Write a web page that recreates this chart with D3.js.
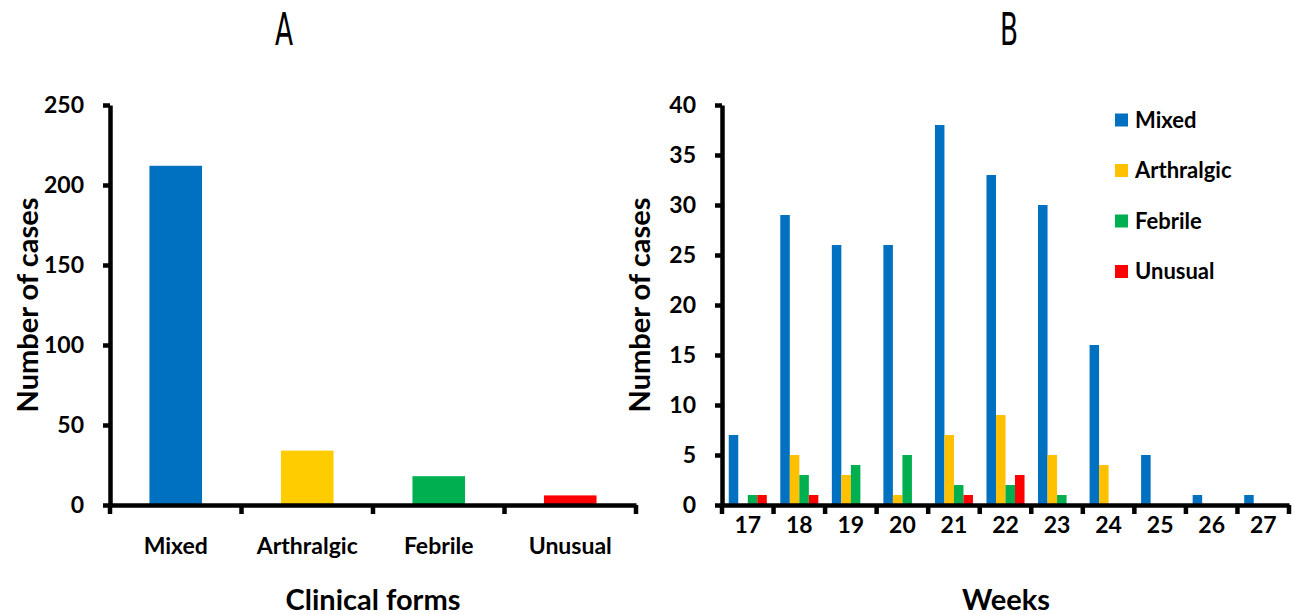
<!DOCTYPE html>
<html><head><meta charset="utf-8">
<script src="https://cdn.jsdelivr.net/npm/d3@7"></script>
<style>
body{margin:0;background:#fff;}
text{font-family:Lato,"Open Sans",sans-serif;font-weight:bold;fill:#000;}
</style></head>
<body><svg id="c" width="1294" height="615"></svg>
<script>
// Panel A data
const formCategories = ["Mixed","Arthralgic","Febrile","Unusual"];
const formValues = [212, 34, 18, 6];
const formColors = ["#0070C0","#FFCC00","#00B050","#FF0000"];
const formTicks = [0,50,100,150,200,250];

// Panel B data
const weeks = ["17","18","19","20","21","22","23","24","25","26","27"];
const seriesNames = ["Mixed","Arthralgic","Febrile","Unusual"];
const mixedByWeek =      [7,29,26,26,38,33,30,16,5,1,1];
const arthralgicByWeek = [0,5,3,1,7,9,5,4,0,0,0];
const febrileByWeek =    [1,3,4,5,2,2,1,0,0,0,0];
const unusualByWeek =    [1,1,0,0,1,3,0,0,0,0,0];
const seriesColors = ["#0070C0","#FFC000","#00B050","#FF0000"];
const weekTicks = [0,5,10,15,20,25,30,35,40];

const svg = d3.select("#c");
const AX = 4.5;
const TICKFS = "23px";

function styleAxis(g){
  g.selectAll("path.domain").attr("stroke","#000").attr("stroke-width",AX);
  g.selectAll(".tick line").attr("stroke","#000").attr("stroke-width",AX);
  g.selectAll(".tick text").style("font-size",TICKFS).style("font-family","Lato, sans-serif").style("font-weight","bold").attr("fill","#000");
}

// ---------- Panel A ----------
const xA = d3.scaleBand().domain(formCategories).range([110,636]);
const yA = d3.scaleLinear().domain([0,250]).range([505,105]);
const bwA = xA.bandwidth()*0.4;

svg.append("g").selectAll("rect").data(formCategories).join("rect")
  .attr("x",d=>xA(d)+xA.bandwidth()/2-bwA/2)
  .attr("width",bwA)
  .attr("y",(d,i)=>yA(formValues[i]))
  .attr("height",(d,i)=>yA(0)-yA(formValues[i]))
  .attr("fill",(d,i)=>formColors[i]);

const gyA = svg.append("g").attr("transform","translate(110,0)")
  .call(d3.axisLeft(yA).tickValues(formTicks).tickSize(7).tickSizeOuter(0).tickPadding(19));
styleAxis(gyA);

const gxA = svg.append("g").attr("transform","translate(0,505)")
  .call(d3.axisBottom(xA).tickSize(0).tickSizeOuter(0).tickPadding(33));
styleAxis(gxA);
const bndA = formCategories.map(d=>xA(d)).concat([xA.range()[1]]);
svg.append("g").selectAll("line").data(bndA).join("line")
  .attr("x1",d=>d).attr("x2",d=>d).attr("y1",505).attr("y2",514)
  .attr("stroke","#000").attr("stroke-width",AX);

svg.append("text").attr("x",373).attr("y",610).attr("text-anchor","middle")
  .style("font-size","29px").text("Clinical forms");
svg.append("text").attr("transform","translate(38,305) rotate(-90)").attr("text-anchor","middle")
  .style("font-size","29px").text("Number of cases");
svg.append("text").attr("transform","translate(284,45) scale(0.6,1)").attr("text-anchor","middle")
  .style("font-size","44px").style("font-weight","normal").style("font-family","'DejaVu Sans'").text("A");

// ---------- Panel B ----------
const xB = d3.scaleBand().domain(weeks).range([722,1289]);
const x1 = d3.scaleBand().domain(seriesNames).range([6.75, xB.bandwidth()-6.75]);
const yB = d3.scaleLinear().domain([0,40]).range([505,105]);
const seriesData = [mixedByWeek, arthralgicByWeek, febrileByWeek, unusualByWeek];

seriesNames.forEach((s,si)=>{
  svg.append("g").selectAll("rect").data(weeks).join("rect")
    .attr("x",d=>xB(d)+x1(s))
    .attr("width",x1.bandwidth())
    .attr("y",(d,i)=>yB(seriesData[si][i]))
    .attr("height",(d,i)=>yB(0)-yB(seriesData[si][i]))
    .attr("fill",seriesColors[si]);
});

const gyB = svg.append("g").attr("transform","translate(722,0)")
  .call(d3.axisLeft(yB).tickValues(weekTicks).tickSize(7).tickSizeOuter(0).tickPadding(19));
styleAxis(gyB);

const gxB = svg.append("g").attr("transform","translate(0,505)")
  .call(d3.axisBottom(xB).tickSize(0).tickSizeOuter(0).tickPadding(12));
styleAxis(gxB);
const bndB = weeks.map(d=>xB(d)).concat([xB.range()[1]]);
svg.append("g").selectAll("line").data(bndB).join("line")
  .attr("x1",d=>d).attr("x2",d=>d).attr("y1",505).attr("y2",514)
  .attr("stroke","#000").attr("stroke-width",AX);

svg.append("text").attr("x",1006).attr("y",610).attr("text-anchor","middle")
  .style("font-size","29px").text("Weeks");
svg.append("text").attr("transform","translate(650,305) rotate(-90)").attr("text-anchor","middle")
  .style("font-size","29px").text("Number of cases");
svg.append("text").attr("transform","translate(1009,45) scale(0.6,1)").attr("text-anchor","middle")
  .style("font-size","44px").style("font-weight","normal").style("font-family","'DejaVu Sans'").text("B");

// legend
const lg = svg.append("g").attr("transform","translate(1115,120)");
seriesNames.forEach((s,i)=>{
  const row = lg.append("g").attr("transform",`translate(0,${i*50.5})`);
  row.append("rect").attr("x",0).attr("y",-6.5).attr("width",13).attr("height",13).attr("fill",seriesColors[i]);
  row.append("text").attr("x",20).attr("y",0).attr("dy","0.35em").style("font-size","22px").text(s);
});
</script></body></html>
